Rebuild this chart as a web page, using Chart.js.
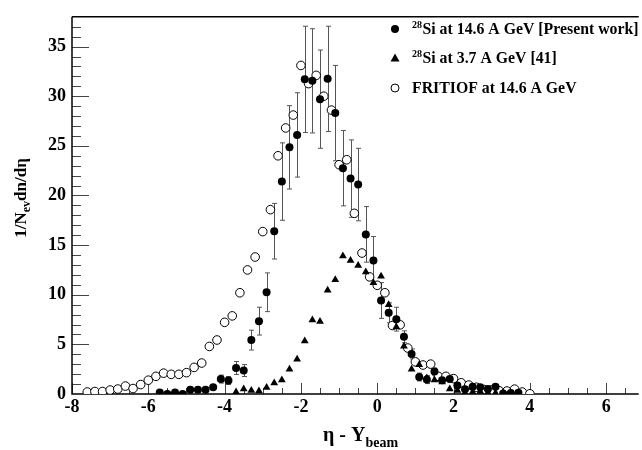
<!DOCTYPE html>
<html>
<head>
<meta charset="utf-8">
<script src="https://cdn.jsdelivr.net/npm/chart.js@4.4.1/dist/chart.umd.min.js"></script>
<style>
  html, body { margin: 0; padding: 0; background: #fff; }
  #wrap { width: 642px; height: 450px; }
</style>
</head>
<body>
<div id="wrap"><canvas id="c" width="642" height="450"></canvas></div>
<script>
// 28Si at 14.6 A GeV [Present work]
const fillX = [-5.7,-5.5,-5.3,-5.1,-4.9,-4.7,-4.5,-4.3,-4.1,-3.9,-3.7,-3.5,-3.3,-3.1,-2.9,-2.7,-2.5,-2.3,-2.1,-1.9,
  -1.7,-1.5,-1.3,-1.1,-0.9,-0.7,-0.5,-0.3,-0.1,0.1,0.3,0.5,0.7,0.9,1.1,1.3,1.5,1.7,1.9,2.1,2.3,2.5,2.7,2.9,3.1,3.3,3.5,3.7];
const fillY = [0.15,0.0,0.15,0.0,0.42,0.42,0.42,0.68,1.5,1.36,2.62,2.36,5.43,7.34,10.25,16.4,21.4,24.85,26.1,31.7,
  31.55,29.7,31.75,28.3,22.75,21.7,21.1,16.08,13.46,9.42,8.18,7.54,5.76,4.04,1.71,1.45,2.26,1.39,1.5,0.85,0.48,0.72,0.68,0.5,0.74,0.05,0.1,0.12];
const fillErr = [0.1,0.1,0.1,0.1,0.15,0.15,0.15,0.2,0.4,0.4,0.65,0.6,1.0,1.4,1.95,2.8,3.9,4.2,4.25,5.35,
  5.25,4.95,5.3,4.8,3.8,3.9,3.65,2.8,2.4,1.8,1.0,1.2,0.6,0.5,0.4,0.4,0.35,0.3,0.3,0.2,0.2,0.15,0.15,0.15,0.15,0.1,0.1,0.1];

// 28Si at 3.7 A GeV [41]
const triX = [-3.7,-3.5,-3.3,-3.1,-2.9,-2.7,-2.5,-2.3,-2.1,-1.9,-1.7,-1.5,-1.3,-1.1,-0.9,-0.7,-0.5,-0.3,-0.1,
  0.1,0.3,0.5,0.7,0.9,1.1,1.3,1.5,1.7,1.9,2.1,2.3,2.5,2.7,2.9,3.1,3.3,3.5,3.7];
const triY = [0.2,0.5,0.35,0.3,0.65,1.1,1.4,2.5,3.5,5.35,7.45,7.3,10.45,11.5,13.9,13.45,12.95,12.3,11.2,
  11.85,9.0,6.75,4.8,2.5,2.95,1.6,1.4,1.2,0.5,0.35,0.1,0.2,0.25,0.15,0.1,0.15,0.1,0.1];

// FRITIOF at 14.6 A GeV
const openX = [-7.6,-7.4,-7.2,-7.0,-6.8,-6.6,-6.4,-6.2,-6.0,-5.8,-5.6,-5.4,-5.2,-5.0,-4.8,-4.6,-4.4,-4.2,-4.0,-3.8,
  -3.6,-3.4,-3.2,-3.0,-2.8,-2.6,-2.4,-2.2,-2.0,-1.8,-1.6,-1.4,-1.2,-1.0,-0.8,-0.6,-0.4,-0.2,0.0,0.2,
  0.4,0.6,0.8,1.0,1.2,1.4,1.6,1.8,2.0,2.2,2.4,2.6,2.8,3.0,3.2,3.4,3.6,3.8,4.0];
const openY = [0.2,0.25,0.25,0.4,0.5,0.8,0.55,0.95,1.39,1.78,2.1,1.98,1.98,2.15,2.68,3.12,4.79,5.44,7.22,7.87,
  10.2,12.5,13.8,16.36,18.57,24.0,26.8,28.1,33.1,31.27,32.1,30.0,28.6,23.1,23.6,18.2,14.2,11.8,10.95,10.2,
  6.9,6.97,4.63,3.24,2.92,3.01,1.78,1.78,1.55,1.13,0.9,0.68,0.45,0.42,0.32,0.3,0.49,0.2,0.02];

const xMajor = [-8, -6, -4, -2, 0, 2, 4, 6];
const yMajor = [0, 5, 10, 15, 20, 25, 30, 35];

const FONT = '"Liberation Serif", "DejaVu Serif", serif';

function pts(xs, ys) {
  return xs.map((x, i) => ({ x: x, y: ys[i] }));
}

// error bars, axes, minor ticks, titles and legend
const decor = {
  id: 'decor',
  beforeDatasetsDraw(chart) {
    const ctx = chart.ctx;
    const xs = chart.scales.x, ys = chart.scales.y;
    const a = chart.chartArea;
    ctx.save();

    // ticks pointing inwards
    ctx.strokeStyle = '#444';
    ctx.lineWidth = 1;
    ctx.beginPath();
    for (let v = -8; v <= 6.8; v += 0.5) {
      const px = Math.round(xs.getPixelForValue(v)) + 0.5;
      const len = xMajor.includes(v) ? 11 : 6;
      ctx.moveTo(px, a.bottom);
      ctx.lineTo(px, a.bottom - len);
    }
    for (let v = 1; v <= 37; v += 1) {
      const py = Math.round(ys.getPixelForValue(v)) + 0.5;
      const len = yMajor.includes(v) ? 17 : 9;
      ctx.moveTo(a.left, py);
      ctx.lineTo(a.left + len, py);
    }
    ctx.stroke();

    // frame
    ctx.strokeStyle = '#000';
    ctx.lineWidth = 1.5;
    ctx.beginPath();
    ctx.moveTo(a.left, a.top);
    ctx.lineTo(a.right + 2, a.top);
    ctx.moveTo(a.left, a.top);
    ctx.lineTo(a.left, a.bottom);
    ctx.lineTo(a.right + 2, a.bottom);
    ctx.stroke();

    // error bars of the present work
    ctx.strokeStyle = '#555';
    ctx.lineWidth = 1;
    ctx.beginPath();
    fillX.forEach((x, i) => {
      const px = Math.round(xs.getPixelForValue(x)) + 0.5;
      const top = ys.getPixelForValue(fillY[i] + fillErr[i]);
      const bot = ys.getPixelForValue(Math.max(fillY[i] - fillErr[i], 0));
      ctx.moveTo(px, top);
      ctx.lineTo(px, bot);
      if (fillErr[i] > 0.3) {
        ctx.moveTo(px - 2.5, top);
        ctx.lineTo(px + 2.5, top);
        ctx.moveTo(px - 2.5, bot);
        ctx.lineTo(px + 2.5, bot);
      }
    });
    ctx.stroke();
    ctx.restore();
  },
  afterDraw(chart) {
    const ctx = chart.ctx;
    ctx.save();
    ctx.fillStyle = '#000';
    ctx.textBaseline = 'alphabetic';

    // x title
    ctx.textAlign = 'left';
    let x = 323;
    ctx.font = 'bold 20px ' + FONT;
    ctx.fillText('η - Y', x, 441);
    x += ctx.measureText('η - Y').width;
    ctx.font = 'bold 14px ' + FONT;
    ctx.fillText('beam', x, 447);

    // y title
    ctx.save();
    ctx.translate(26, 198);
    ctx.rotate(-Math.PI / 2);
    ctx.font = 'bold 17px ' + FONT;
    const p1 = '1/N', p3 = 'dn/dη';
    const w1 = ctx.measureText(p1).width, w3 = ctx.measureText(p3).width;
    ctx.font = 'bold 12px ' + FONT;
    const w2 = ctx.measureText('ev').width;
    let tx = -(w1 + w2 + w3) / 2;
    ctx.font = 'bold 17px ' + FONT;
    ctx.fillText(p1, tx, 0);
    ctx.font = 'bold 12px ' + FONT;
    ctx.fillText('ev', tx + w1, 4);
    ctx.font = 'bold 17px ' + FONT;
    ctx.fillText(p3, tx + w1 + w2, 0);
    ctx.restore();

    // legend
    const rows = [
      { y: 29, sup: '28', text: 'Si at 14.6 A GeV [Present work]', style: 'fill' },
      { y: 58, sup: '28', text: 'Si at 3.7 A GeV [41]', style: 'tri' },
      { y: 88, sup: '', text: 'FRITIOF at 14.6 A GeV', style: 'open' }
    ];
    rows.forEach(r => {
      const mx = 395;
      ctx.beginPath();
      if (r.style === 'fill') {
        ctx.arc(mx, r.y, 4, 0, Math.PI * 2);
        ctx.fillStyle = '#000';
        ctx.fill();
      } else if (r.style === 'tri') {
        ctx.moveTo(mx, r.y - 4.5);
        ctx.lineTo(mx + 4.5, r.y + 3.5);
        ctx.lineTo(mx - 4.5, r.y + 3.5);
        ctx.closePath();
        ctx.fillStyle = '#000';
        ctx.fill();
      } else {
        ctx.arc(mx, r.y, 4, 0, Math.PI * 2);
        ctx.strokeStyle = '#000';
        ctx.lineWidth = 1;
        ctx.stroke();
      }
      ctx.fillStyle = '#000';
      let lx = 412;
      if (r.sup) {
        ctx.font = 'bold 10px ' + FONT;
        ctx.fillText(r.sup, lx, r.y - 1);
        lx += ctx.measureText(r.sup).width + 0.5;
      }
      ctx.font = 'bold 15.8px ' + FONT;
      ctx.fillText(r.text, lx, r.y + 5);
    });
    ctx.restore();
  }
};

new Chart(document.getElementById('c'), {
  type: 'scatter',
  data: {
    datasets: [
      {
        label: 'FRITIOF at 14.6 A GeV',
        data: pts(openX, openY),
        pointStyle: 'circle',
        pointRadius: 4.3,
        backgroundColor: '#fff',
        borderColor: '#000',
        borderWidth: 1,
        order: 3
      },
      {
        label: '28Si at 14.6 A GeV [Present work]',
        data: pts(fillX, fillY),
        pointStyle: 'circle',
        pointRadius: 4,
        backgroundColor: '#000',
        borderColor: '#000',
        borderWidth: 0,
        order: 2
      },
      {
        label: '28Si at 3.7 A GeV [41]',
        data: pts(triX, triY),
        pointStyle: 'triangle',
        pointRadius: 4.5,
        backgroundColor: '#000',
        borderColor: '#000',
        borderWidth: 0,
        order: 1
      }
    ]
  },
  options: {
    responsive: false,
    animation: false,
    devicePixelRatio: 1,
    layout: { padding: { top: 3, right: 1, left: 0, bottom: 0 } },
    plugins: {
      legend: { display: false },
      tooltip: { enabled: false }
    },
    scales: {
      x: {
        type: 'linear',
        min: -8,
        max: 6.8,
        grid: { display: false, drawTicks: false },
        border: { display: false },
        ticks: {
          stepSize: 2,
          includeBounds: false,
          padding: 3,
          color: '#000',
          font: { family: FONT, size: 18, weight: 'bold' }
        },
        afterFit(scale) { scale.height = 56; }
      },
      y: {
        type: 'linear',
        min: 0,
        max: 38,
        grid: { display: false, drawTicks: false },
        border: { display: false },
        ticks: {
          stepSize: 5,
          includeBounds: false,
          padding: 6,
          color: '#000',
          font: { family: FONT, size: 18, weight: 'bold' }
        },
        afterFit(scale) { scale.width = 72; }
      }
    }
  },
  plugins: [decor]
});
</script>
</body>
</html>
